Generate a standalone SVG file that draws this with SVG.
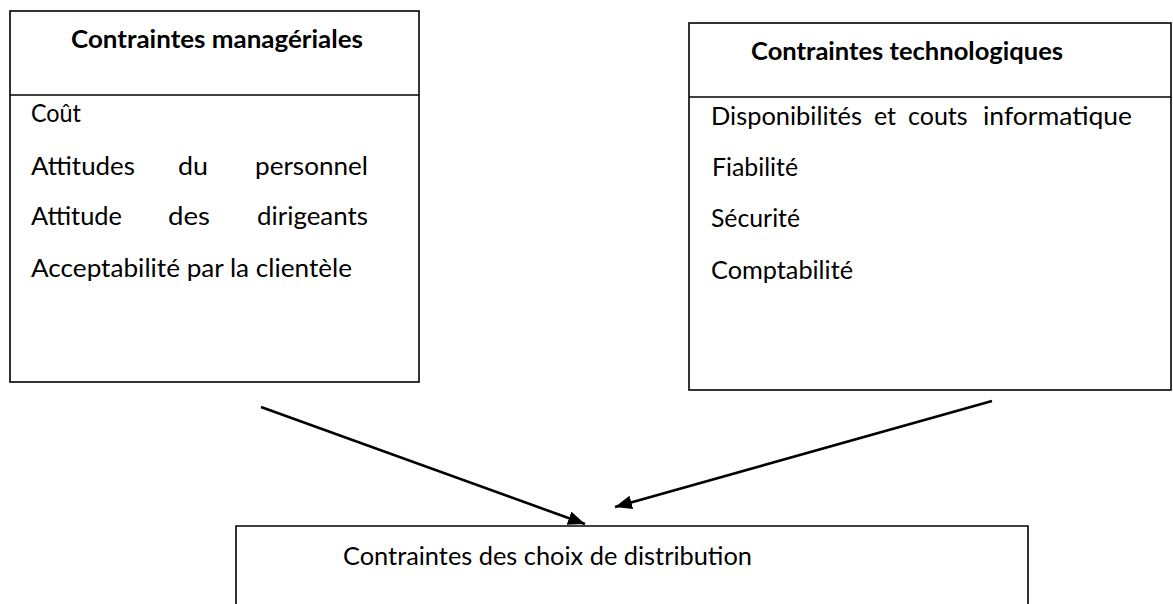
<svg xmlns="http://www.w3.org/2000/svg" width="1173" height="604" viewBox="0 0 1173 604">
  <style>
    .box { fill: none; stroke: #000; stroke-width: 1.6; }
    .head { font-family: Lato, "Liberation Sans", sans-serif; font-weight: bold; font-size: 24px; fill: #000; }
    .item { font-family: Lato, "Liberation Sans", sans-serif; font-size: 25px; fill: #000; }
    .link { stroke: #000; stroke-width: 2.6; fill: none; marker-end: url(#arrow); }
  </style>
  <defs>
    <marker id="arrow" markerUnits="userSpaceOnUse" markerWidth="20" markerHeight="16" refX="17" refY="7" orient="auto">
      <path d="M0,0 L17,7 L0,14 Z" fill="#000"/>
    </marker>
  </defs>
  <rect width="1173" height="604" fill="#fff"/>

  <!-- managerial constraints -->
  <g id="managerial">
    <rect class="box" x="10" y="11" width="409" height="371"/>
    <line class="box" x1="10" y1="95" x2="419" y2="95"/>
    <text class="head" x="71" y="48" textLength="292" lengthAdjust="spacingAndGlyphs">Contraintes managériales</text>
    <text class="item" x="31" y="122" textLength="50" lengthAdjust="spacingAndGlyphs">Coût</text>
    <text class="item" x="31" y="175" textLength="104" lengthAdjust="spacingAndGlyphs">Attitudes</text>
    <text class="item" x="178" y="175" textLength="30" lengthAdjust="spacingAndGlyphs">du</text>
    <text class="item" x="255" y="175" textLength="113" lengthAdjust="spacingAndGlyphs">personnel</text>
    <text class="item" x="31" y="225" textLength="91" lengthAdjust="spacingAndGlyphs">Attitude</text>
    <text class="item" x="168" y="225" textLength="42" lengthAdjust="spacingAndGlyphs">des</text>
    <text class="item" x="257" y="225" textLength="111" lengthAdjust="spacingAndGlyphs">dirigeants</text>
    <text class="item" x="31" y="277" textLength="321" lengthAdjust="spacingAndGlyphs">Acceptabilité par la clientèle</text>
  </g>

  <!-- technological constraints -->
  <g id="technological">
    <rect class="box" x="689" y="23" width="482" height="367"/>
    <line class="box" x1="689" y1="97" x2="1171" y2="97"/>
    <text class="head" x="751" y="60" textLength="312" lengthAdjust="spacingAndGlyphs">Contraintes technologiques</text>
    <text class="item" x="711" y="125" textLength="151" lengthAdjust="spacingAndGlyphs">Disponibilités</text>
    <text class="item" x="874" y="125">et</text>
    <text class="item" x="908" y="125">couts</text>
    <text class="item" x="983" y="125" textLength="149" lengthAdjust="spacingAndGlyphs">informatique</text>
    <text class="item" x="712" y="176" textLength="86" lengthAdjust="spacingAndGlyphs">Fiabilité</text>
    <text class="item" x="711" y="227" textLength="89" lengthAdjust="spacingAndGlyphs">Sécurité</text>
    <text class="item" x="711" y="279" textLength="142" lengthAdjust="spacingAndGlyphs">Comptabilité</text>
  </g>

  <!-- distribution choice -->
  <g id="distribution">
    <path class="box" d="M236,610 L236,526 L1028,526 L1028,610"/>
    <text class="item" x="343" y="565" textLength="409" lengthAdjust="spacingAndGlyphs">Contraintes des choix de distribution</text>
  </g>

  <!-- connectors -->
  <g id="connectors">
    <line class="link" x1="261" y1="407" x2="585" y2="524"/>
    <line class="link" x1="992" y1="401" x2="615" y2="507"/>
  </g>
</svg>
